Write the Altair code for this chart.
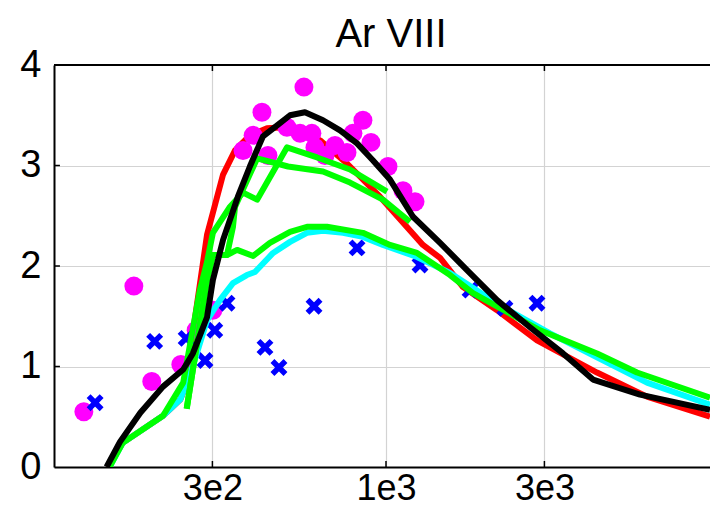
import altair as alt
import pandas as pd

title_text = "Ar VIII"
x_ticks = [300, 1000, 3000]
x_tick_labels = ["3e2", "1e3", "3e3"]
y_ticks = [0, 1, 2, 3, 4]
y_grid = [1, 2, 3]

red_x = [145, 161, 213, 240, 248, 289, 301, 323, 351, 389, 438, 496, 551, 633, 763, 959, 1292, 1455, 1706, 2160, 2850, 4321, 6110, 9460]
red_y = [0, 0.24, 0.51, 0.67, 0.79, 2.31, 2.53, 2.91, 3.15, 3.30, 3.37, 3.38, 3.35, 3.25, 3.02, 2.69, 2.21, 2.08, 1.79, 1.56, 1.26, 0.94, 0.70, 0.50]

cyan_x = [147, 161, 213, 240, 262, 275, 289, 316, 346, 381, 403, 457, 514, 578, 646, 742, 852, 979, 1240, 1559, 2251, 3119, 4321, 6110, 9460]
cyan_y = [0, 0.24, 0.51, 0.67, 1.00, 1.23, 1.46, 1.66, 1.83, 1.91, 1.94, 2.13, 2.24, 2.33, 2.35, 2.33, 2.29, 2.21, 2.09, 1.93, 1.59, 1.33, 1.09, 0.84, 0.62]

black_x = [144, 158, 182, 213, 245, 262, 289, 301, 323, 358, 389, 426, 470, 514, 570, 646, 727, 818, 914, 1028, 1206, 1455, 1754, 2160, 2715, 3414, 4203, 5821, 9460]
black_y = [0, 0.25, 0.54, 0.80, 0.97, 1.13, 1.49, 1.86, 2.26, 2.69, 2.99, 3.29, 3.40, 3.50, 3.53, 3.45, 3.35, 3.22, 3.05, 2.86, 2.49, 2.23, 1.96, 1.66, 1.39, 1.13, 0.87, 0.72, 0.57]

green_a_x = [147, 161, 213, 245, 275, 289, 301, 339, 371, 409, 503, 620, 779, 1007]
green_a_y = [0, 0.24, 0.51, 0.84, 1.76, 2.04, 2.33, 2.59, 2.73, 2.66, 3.18, 3.08, 2.96, 2.74]

green_b_x = [251, 289, 301, 332, 346, 351, 409, 507, 646, 779, 979, 1181]
green_b_y = [0.58, 1.86, 2.11, 2.11, 2.39, 2.59, 3.07, 2.99, 2.94, 2.83, 2.66, 2.44]

green_c_x = [251, 289, 301, 332, 356, 398, 447, 514, 578, 664, 852, 1028, 1240, 1559, 1828, 2910, 4321, 5702, 9460]
green_c_y = [0.58, 1.86, 2.11, 2.11, 2.16, 2.10, 2.23, 2.34, 2.39, 2.39, 2.33, 2.21, 2.13, 1.91, 1.73, 1.36, 1.13, 0.94, 0.69]

magenta_x = [123, 174, 197, 241, 268, 301, 371, 398, 423, 441, 503, 551, 566, 598, 611, 655, 702, 763, 795, 852, 901, 1014, 1125, 1223]
magenta_y = [0.55, 1.80, 0.85, 1.02, 1.36, 1.56, 3.15, 3.30, 3.53, 3.10, 3.38, 3.32, 3.78, 3.32, 3.18, 3.10, 3.20, 3.13, 3.32, 3.45, 3.23, 2.99, 2.75, 2.64]

blue_x = [133, 201, 250, 285, 305, 332, 432, 476, 607, 818, 1266, 1791, 2282, 2850]
blue_y = [0.64, 1.25, 1.28, 1.06, 1.36, 1.63, 1.19, 0.99, 1.60, 2.18, 2.01, 1.76, 1.58, 1.63]

FONT = "Liberation Sans"
x_dom = [100, 9460]
y_dom = [0, 4]
xs = alt.Scale(type="log", domain=x_dom, nice=False)
ys = alt.Scale(domain=y_dom, nice=False)

label_expr = " : ".join(
    f"datum.value == {v} ? '{l}'" for v, l in zip(x_ticks, x_tick_labels)
) + " : ''"

x_axis = alt.Axis(
    values=x_ticks, labelExpr=label_expr, grid=True, gridColor="#d3d3d3", gridWidth=1.2,
    domainColor="black", domainWidth=2, ticks=False, labelFontSize=36, labelFont=FONT,
    labelColor="black", labelPadding=40, labelBaseline="bottom", title=None, labelFlush=False)
y_axis = alt.Axis(
    values=y_ticks, format="d", grid=True, gridColor="#d3d3d3", gridWidth=1.2,
    domainColor="black", domainWidth=2, ticks=False, labelFontSize=38, labelFont=FONT,
    labelColor="black", labelPadding=13, title=None, labelFlush=False, labelBaseline="middle")


def X():
    return alt.X("x:Q", scale=xs, axis=x_axis)


def Y():
    return alt.Y("y:Q", scale=ys, axis=y_axis)


def line_layer(xv, yv, color):
    df = pd.DataFrame({"x": xv, "y": yv, "i": list(range(len(xv)))})
    return alt.Chart(df).mark_line(color=color, strokeWidth=6, clip=True, strokeJoin="round").encode(
        x=X(), y=Y(), order="i:Q",
    )


top_border = alt.Chart(pd.DataFrame({"y": [y_dom[1]]})).mark_rule(color="black", strokeWidth=2).encode(
    y=Y()
)

tick_len_y = 0.06
tick_len_x = 1.042
xt_df = pd.DataFrame({"x": x_ticks})
xticks_bottom = alt.Chart(xt_df).mark_rule(color="black", strokeWidth=1.5).encode(
    x=X(),
    y=alt.datum(y_dom[0], scale=ys),
    y2=alt.datum(y_dom[0] + tick_len_y),
)
xticks_top = alt.Chart(xt_df).mark_rule(color="black", strokeWidth=1.5).encode(
    x=X(),
    y=alt.datum(y_dom[1], scale=ys),
    y2=alt.datum(y_dom[1] - tick_len_y),
)
yt_df = pd.DataFrame({"y": y_grid})
yticks_left = alt.Chart(yt_df).mark_rule(color="black", strokeWidth=1.5).encode(
    y=Y(),
    x=alt.datum(x_dom[0], scale=xs),
    x2=alt.datum(x_dom[0] * tick_len_x),
)

mag = alt.Chart(pd.DataFrame({"x": magenta_x, "y": magenta_y})).mark_circle(
    color="#ff00ff", size=360, opacity=1).encode(x=X(), y=Y())

blue = alt.Chart(pd.DataFrame({"x": blue_x, "y": blue_y})).mark_point(
    shape="M-1,-1L1,1M1,-1L-1,1", filled=False, color="#0000ff", strokeWidth=5.5, size=170, opacity=1).encode(
    x=X(), y=Y())

chart = alt.layer(
    line_layer(red_x, red_y, "#ff0000"),
    mag,
    blue,
    line_layer(cyan_x, cyan_y, "#00ffff"),
    line_layer(green_c_x, green_c_y, "#00ff00"),
    line_layer(green_b_x, green_b_y, "#00ff00"),
    line_layer(green_a_x, green_a_y, "#00ff00"),
    line_layer(black_x, black_y, "#000000"),
    top_border,
    xticks_bottom,
    xticks_top,
    yticks_left,
).properties(
    width=656,
    height=402,
    title=alt.TitleParams(title_text, fontSize=40, font=FONT, fontWeight="normal", color="black",
                          frame="group", offset=12, dy=21, dx=9),
    autosize=alt.AutoSizeParams(type="none"),
    padding={"left": 54, "top": 65, "right": 0, "bottom": 41},
).configure_view(stroke=None).configure(background="white")

chart.save("out.html", embed_options={"renderer": "svg", "actions": False})
